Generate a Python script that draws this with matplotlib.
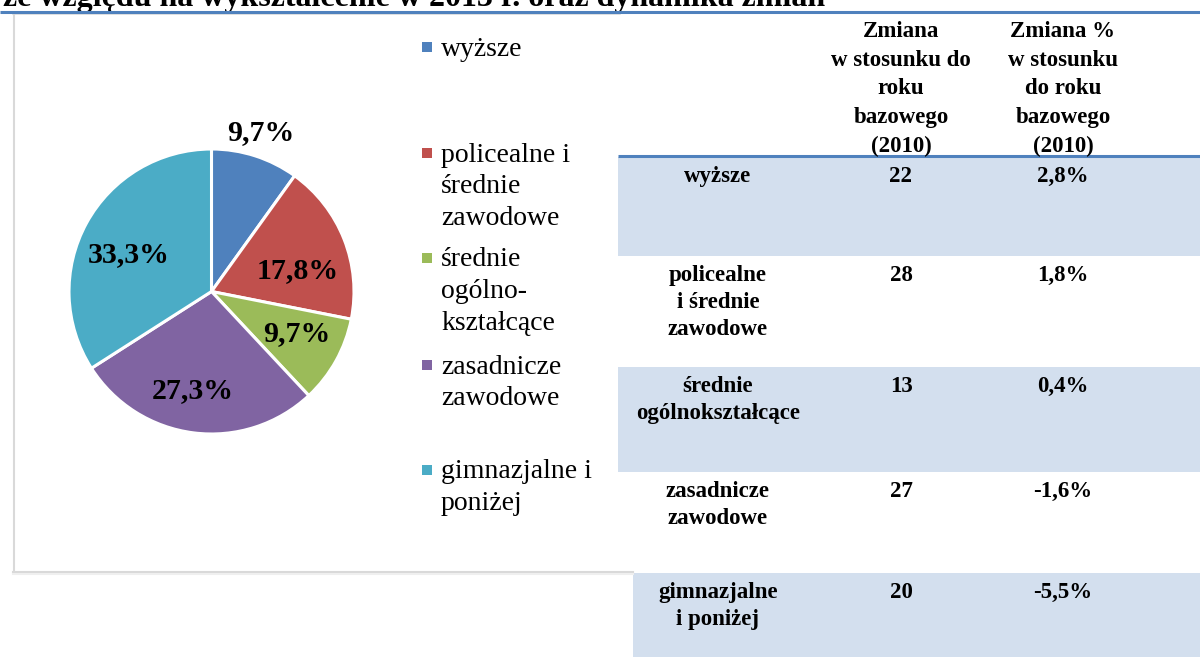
import matplotlib
matplotlib.use("Agg")
import matplotlib.pyplot as plt
from matplotlib.patches import Rectangle
import numpy as np

# ---------------- data ----------------
title = "ze względu na wykształcenie w 2013 r. oraz dynamika zmian"
categories = ["wyższe", "policealne i średnie zawodowe", "średnie ogólnokształcące",
              "zasadnicze zawodowe", "gimnazjalne i poniżej"]
shares = [9.7, 17.8, 9.7, 27.3, 33.3]
legend_labels = ["wyższe", "policealne i\nśrednie\nzawodowe", "średnie\nogólno-\nkształcące",
                 "zasadnicze\nzawodowe", "gimnazjalne i\nponiżej"]
table_row_labels = ["wyższe", "policealne\ni średnie\nzawodowe", "średnie\nogólnokształcące",
                    "zasadnicze\nzawodowe", "gimnazjalne\ni poniżej"]
change_abs = [22, 28, 13, 27, 20]
change_pct = [2.8, 1.8, 0.4, -1.6, -5.5]
col_headers = ["Zmiana\nw stosunku do\nroku\nbazowego\n(2010)",
               "Zmiana %\nw stosunku\ndo roku\nbazowego\n(2010)"]
colors = ["#4F81BD", "#C0504D", "#9BBB59", "#8064A2", "#4BACC6"]

def pl(v, dec=1):
    return f"{v:.{dec}f}".replace(".", ",")

# ---------------- figure ----------------
W, H = 1200, 657
fig = plt.figure(figsize=(W / 100, H / 100), dpi=100)

SERIF = ["Liberation Serif", "DejaVu Serif"]
BLUE = "#4F81BD"

# ---------------- pie (drawn underneath the overlay axes) ----------------
cx, cy, r = 211.5, 291.5, 142.5
pax = fig.add_axes([(cx - r) / W, 1 - (cy + r) / H, 2 * r / W, 2 * r / H])
pax.set_zorder(0)
wedges, _ = pax.pie(shares, colors=colors, startangle=90, counterclock=False,
                    radius=1, wedgeprops=dict(edgecolor="white", linewidth=2.2))
pax.set_xlim(-1, 1)
pax.set_ylim(-1, 1)
pax.set_aspect("equal")
pax.axis("off")

bg = fig.add_axes([0, 0, 1, 1])
bg.set_zorder(1)
bg.set_xlim(0, W)
bg.set_ylim(H, 0)
bg.axis("off")

# title (partly cut off at the top) and top rule
bg.text(3, 6, title, ha="left", va="baseline", fontsize=23, fontweight="bold",
        family=SERIF, color="black", zorder=5)
bg.plot([0, W], [11.5, 11.5], color=BLUE, lw=2.2, solid_capstyle="butt", zorder=6)

# chart box border
box_c = "#D9D9D9"
bg.plot([13, 620], [14, 14], color=box_c, lw=1.1, zorder=2)
bg.plot([13.5, 13.5], [14, 572], color=box_c, lw=1.5, zorder=2)
bg.plot([13, 633], [572, 572], color=box_c, lw=1.5, zorder=2)
bg.plot([13, 633], [574, 574], color="#EFEFEF", lw=1.5, zorder=2)

# pie percentage labels
lab_rf = [1.165, 0.624, 0.667, 0.71, 0.633]
lab_dtheta = [-0.5, 8.2, -3.1, 3.4, -4.8]   # clockwise offset, degrees
for w, v, rf, dt in zip(wedges, shares, lab_rf, lab_dtheta):
    th = np.deg2rad((w.theta1 + w.theta2) / 2 - dt)
    x = cx + rf * r * np.cos(th)
    y = cy - rf * r * np.sin(th)
    bg.text(x, y, pl(v) + "%", ha="center", va="center", fontsize=21.5,
            fontweight="bold", family=SERIF, color="black", zorder=5)

# ---------------- legend ----------------
leg_y = [47, 153, 258, 365, 470]
leg_step = 31.7
for lab, c, y0 in zip(legend_labels, colors, leg_y):
    bg.add_patch(Rectangle((422, y0 - 5), 10, 10, facecolor=c, edgecolor="none", zorder=4))
    for i, line in enumerate(lab.split("\n")):
        bg.text(441, y0 + 8.5 + i * leg_step, line, ha="left", va="baseline",
                fontsize=20, family=SERIF, color="black", zorder=5)

# ---------------- table ----------------
row_tops = [157, 256, 367, 472, 573]
row_bots = [256, 367, 472, 573, 657]
row_left = [618, 618, 618, 618, 633]
shade = "#D3DFEE"
for k, (t, b, lx) in enumerate(zip(row_tops, row_bots, row_left)):
    if k % 2 == 0:
        bg.add_patch(Rectangle((lx, t), W - lx, b - t, facecolor=shade,
                               edgecolor="none", zorder=1))
bg.plot([618, W], [155.5, 155.5], color=BLUE, lw=2.2, solid_capstyle="butt", zorder=3)

col_x = [718, 901, 1063]
tfs = 16.5
hdr_step = 28.75
for cxh, hdr in zip(col_x[1:], col_headers):
    for i, line in enumerate(hdr.split("\n")):
        bg.text(cxh, 37 + i * hdr_step, line, ha="center", va="baseline",
                fontsize=tfs, fontweight="bold", family=SERIF, zorder=5)

row_step = 27
for t, lab, a, p in zip(row_tops, table_row_labels, change_abs, change_pct):
    base = t + 25
    for i, line in enumerate(lab.split("\n")):
        bg.text(col_x[0], base + i * row_step, line, ha="center", va="baseline",
                fontsize=tfs, fontweight="bold", family=SERIF, zorder=5)
    bg.text(col_x[1], base, str(a), ha="center", va="baseline",
            fontsize=tfs, fontweight="bold", family=SERIF, zorder=5)
    bg.text(col_x[2], base, pl(p) + "%", ha="center", va="baseline",
            fontsize=tfs, fontweight="bold", family=SERIF, zorder=5)

fig.savefig("out.png", dpi=100)
